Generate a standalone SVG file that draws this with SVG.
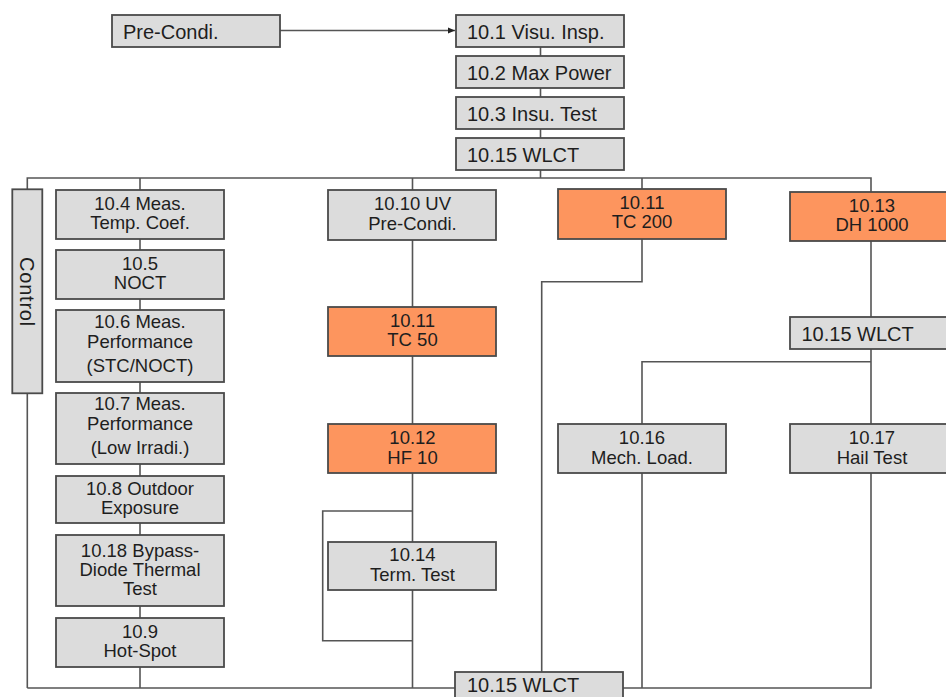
<svg xmlns="http://www.w3.org/2000/svg" width="946" height="697" viewBox="0 0 946 697">
<defs>
<style>
.b{fill:#dcdcdc;stroke:#4a4a4a;stroke-width:1.8}
.o{fill:#fd955e;stroke:#4a4a4a;stroke-width:1.8}
text{font-family:"Liberation Sans",Arial,sans-serif;font-size:18.5px;fill:#1e1e1e}
.c{text-anchor:middle}
.t{font-size:20px}
.ln{fill:none;stroke:#555;stroke-width:1.6}
</style>
<marker id="ah" markerWidth="8" markerHeight="8" refX="7" refY="4" orient="auto" markerUnits="userSpaceOnUse">
<path d="M0,1 L7,4 L0,7 Z" fill="#222"/>
</marker>
</defs>
<rect width="946" height="697" fill="#fff"/>
<g id="connectors">
<line class="ln" x1="280" y1="30.5" x2="455" y2="30.5" marker-end="url(#ah)"/>
<line class="ln" x1="540.5" y1="47" x2="540.5" y2="178"/>
<polyline class="ln" points="27.3,688 27.3,178 871,178 871,688 27.3,688"/>
<line class="ln" x1="140" y1="178" x2="140" y2="688"/>
<line class="ln" x1="412.5" y1="178" x2="412.5" y2="688"/>
<polyline class="ln" points="412.5,511 322.7,511 322.7,640.7 412.5,640.7"/>
<polyline class="ln" points="642,178 642,281.7 541.7,281.7 541.7,672"/>
<polyline class="ln" points="871,361.7 642,361.7 642,688"/>
</g>
<g id="precondi"><rect class="b" x="112" y="15" width="168" height="32"/><text x="123" y="39" class="t">Pre-Condi.</text></g>
<g id="n10_1"><rect class="b" x="456" y="15" width="168" height="32"/><text x="467" y="39" class="t">10.1 Visu. Insp.</text></g>
<g id="n10_2"><rect class="b" x="456" y="56" width="168" height="32"/><text x="467" y="80" class="t">10.2 Max Power</text></g>
<g id="n10_3"><rect class="b" x="456" y="97" width="168" height="32"/><text x="467" y="121" class="t">10.3 Insu. Test</text></g>
<g id="n10_15a"><rect class="b" x="456" y="138" width="168" height="32"/><text x="467" y="162" class="t">10.15 WLCT</text></g>
<g id="control"><rect class="b" x="12.3" y="189.3" width="30" height="204"/><text class="c" transform="translate(27.3,292) rotate(90)" x="0" y="7" style="font-size:20px;letter-spacing:0.8px">Control</text></g>
<g id="n10_4"><rect class="b" x="56" y="190" width="168" height="49"/><text class="c" x="140" y="209.5">10.4 Meas.</text><text class="c" x="140" y="229">Temp. Coef.</text></g>
<g id="n10_5"><rect class="b" x="56" y="250" width="168" height="49"/><text class="c" x="140" y="269.5">10.5</text><text class="c" x="140" y="289">NOCT</text></g>
<g id="n10_6"><rect class="b" x="56" y="310" width="168" height="72"/><text class="c" x="140" y="328">10.6 Meas.</text><text class="c" x="140" y="347.5">Performance</text><text class="c" x="140" y="372">(STC/NOCT)</text></g>
<g id="n10_7"><rect class="b" x="56" y="393" width="168" height="71"/><text class="c" x="140" y="410">10.7 Meas.</text><text class="c" x="140" y="429.5">Performance</text><text class="c" x="140" y="454">(Low Irradi.)</text></g>
<g id="n10_8"><rect class="b" x="56" y="476" width="168" height="47"/><text class="c" x="140" y="494.5">10.8 Outdoor</text><text class="c" x="140" y="514">Exposure</text></g>
<g id="n10_18"><rect class="b" x="56" y="535" width="168" height="71"/><text class="c" x="140" y="557">10.18 Bypass-</text><text class="c" x="140" y="576">Diode Thermal</text><text class="c" x="140" y="595">Test</text></g>
<g id="n10_9"><rect class="b" x="56" y="618" width="168" height="49"/><text class="c" x="140" y="637.5">10.9</text><text class="c" x="140" y="657">Hot-Spot</text></g>
<g id="n10_10"><rect class="b" x="328" y="190" width="168" height="50"/><text class="c" x="412.5" y="210">10.10 UV</text><text class="c" x="412.5" y="229.5">Pre-Condi.</text></g>
<g id="n10_11a"><rect class="o" x="328" y="307" width="168" height="49"/><text class="c" x="412.5" y="326.5">10.11</text><text class="c" x="412.5" y="346">TC 50</text></g>
<g id="n10_12"><rect class="o" x="328" y="424" width="168" height="49"/><text class="c" x="412.5" y="444">10.12</text><text class="c" x="412.5" y="463.5">HF 10</text></g>
<g id="n10_14"><rect class="b" x="328" y="542" width="168" height="48"/><text class="c" x="412.5" y="561">10.14</text><text class="c" x="412.5" y="580.5">Term. Test</text></g>
<g id="n10_15b"><rect class="b" x="455" y="672" width="168" height="40"/><text x="467" y="692" class="t">10.15 WLCT</text></g>
<g id="n10_11b"><rect class="o" x="558" y="189" width="168" height="50"/><text class="c" x="642" y="208.5">10.11</text><text class="c" x="642" y="228">TC 200</text></g>
<g id="n10_16"><rect class="b" x="558" y="424" width="168" height="49"/><text class="c" x="642" y="444">10.16</text><text class="c" x="642" y="463.5">Mech. Load.</text></g>
<g id="n10_13"><rect class="o" x="790" y="192" width="170" height="49"/><text class="c" x="872" y="211.5">10.13</text><text class="c" x="872" y="231">DH 1000</text></g>
<g id="n10_15c"><rect class="b" x="790" y="317" width="170" height="32"/><text x="801.5" y="341" class="t">10.15 WLCT</text></g>
<g id="n10_17"><rect class="b" x="790" y="424" width="170" height="49"/><text class="c" x="872" y="444">10.17</text><text class="c" x="872" y="463.5">Hail Test</text></g>
</svg>
